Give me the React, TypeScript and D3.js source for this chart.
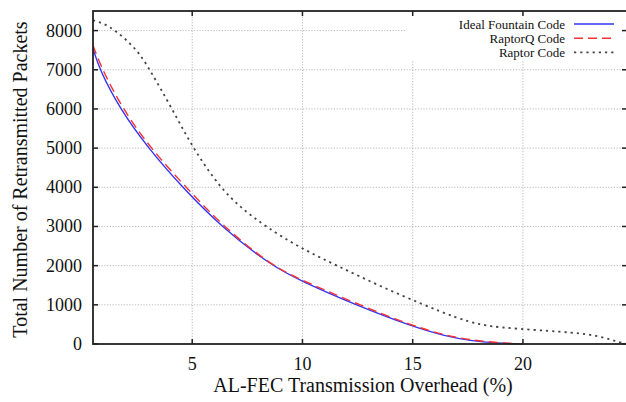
import React from 'react';
import * as d3 from 'd3';

const xTicks = [5, 10, 15, 20];
const yTicks = [0, 1000, 2000, 3000, 4000, 5000, 6000, 7000, 8000];

const idealX = [0.5, 0.8, 1.72, 3.0, 4.55, 6.3, 8.58, 10, 12.4, 15, 16.5, 17.6, 18.8, 20];
const idealY = [7540, 7000, 6000, 5000, 4000, 3000, 2000, 1590, 1000, 440, 200, 85, 20, 0];

const raptorQX = [0.5, 0.92, 1.85, 3.1, 4.72, 6.4, 8.6, 10, 12.45, 15, 16.5, 17.6, 18.8, 20];
const raptorQY = [7620, 7000, 6000, 5000, 4000, 3000, 2000, 1620, 1030, 460, 220, 105, 35, 0];

const raptorX = [0.5, 1.0, 1.52, 2.2, 2.66, 3.08, 4.09, 5.03, 6.25, 7.2, 8.32, 9.9, 11.57, 13.5, 15.5, 17, 18.07, 19, 20.5, 21.7, 22.6, 23.3, 23.96, 24.35, 24.72];
const raptorY = [8265, 8180, 8000, 7670, 7370, 7000, 6000, 5000, 4000, 3480, 3000, 2450, 2000, 1480, 1000, 660, 490, 420, 360, 315, 270, 215, 120, 45, 0];

const seriesNames = ['Ideal Fountain Code', 'RaptorQ Code', 'Raptor Code'];

const W = 626, H = 402;
const L = 93, R = 627, T = 11, B = 344;

export default function App() {
  const x = d3.scaleLinear().domain([0.5, 24.72]).range([L, R]);
  const y = d3.scaleLinear().domain([0, 8500]).range([B, T]);
  const line = d3.line<[number, number]>()
    .x(d => x(d[0]))
    .y(d => y(d[1]))
    .curve(d3.curveBasis);
  const zip = (a: number[], b: number[]) => a.map((v, i) => [v, b[i]] as [number, number]);

  const series = [
    { name: seriesNames[0], d: line(zip(idealX, idealY)), color: '#3333f5', dash: undefined as string | undefined, w: 1.4 },
    { name: seriesNames[1], d: line(zip(raptorQX, raptorQY)), color: '#f53333', dash: '9,5', w: 1.4 },
    { name: seriesNames[2], d: line(zip(raptorX, raptorY)), color: '#444', dash: '2.2,4', w: 1.8 },
  ];
  const ff = "'Times New Roman', Times, 'Liberation Serif', 'Noto Serif', 'DejaVu Serif', serif";
  return (
    <svg width={W} height={H} style={{ position: 'absolute', left: 0, top: 0, background: '#fff' }}>
      <rect x={0} y={0} width={W} height={H} fill="#fff" />
      {/* grid */}
      <g stroke="#b8b8b8" strokeWidth={1} strokeDasharray="1.2,1.6">
        {yTicks.filter(t => t > 0).map(t => (
          <line key={'gy' + t} x1={L} x2={R} y1={y(t)} y2={y(t)} />
        ))}
        {xTicks.map(t => (
          <line key={'gx' + t} x1={x(t)} x2={x(t)} y1={T} y2={B} />
        ))}
      </g>
      {/* legend background */}
      <rect x={405} y={13} width={217} height={48} fill="#fff" />
      {/* curves */}
      {series.map(s => (
        <path key={s.name} d={s.d || ''} fill="none" stroke={s.color} strokeWidth={s.w} strokeDasharray={s.dash} />
      ))}
      {/* frame */}
      <rect x={L} y={T} width={R - L} height={B - T} fill="none" stroke="#222" strokeWidth={1.8} />
      {/* ticks */}
      <g stroke="#222" strokeWidth={1.5}>
        {xTicks.map(t => (
          <g key={'tx' + t}>
            <line x1={x(t)} x2={x(t)} y1={B} y2={B - 5} />
            <line x1={x(t)} x2={x(t)} y1={T} y2={T + 5} />
          </g>
        ))}
        {yTicks.map(t => (
          <g key={'ty' + t}>
            <line x1={L} x2={L + 5} y1={y(t)} y2={y(t)} />
            <line x1={R} x2={R - 5} y1={y(t)} y2={y(t)} />
          </g>
        ))}
      </g>
      {/* tick labels */}
      <g fontFamily={ff} fontSize={18} fill="#111">
        {yTicks.map(t => (
          <text key={'ly' + t} x={L - 11} y={y(t)} textAnchor="end" dominantBaseline="central">{t}</text>
        ))}
        {xTicks.map(t => (
          <text key={'lx' + t} x={x(t)} y={364} textAnchor="middle" dominantBaseline="central">{t}</text>
        ))}
      </g>
      {/* axis titles */}
      <text x={363} y={385} textAnchor="middle" dominantBaseline="central" fontFamily={ff} fontSize={20} fill="#111">
        AL-FEC Transmission Overhead (%)
      </text>
      <text transform={`translate(20, ${(T + B) / 2 + 2}) rotate(-90)`} textAnchor="middle" dominantBaseline="central" fontFamily={ff} fontSize={20} fill="#111">
        Total Number of Retransmitted Packets
      </text>
      {/* legend */}
      <g fontFamily={ff} fontSize={13} fill="#111">
        {series.map((s, i) => (
          <g key={'lg' + i}>
            <text x={565} y={24 + i * 14.2} textAnchor="end" dominantBaseline="central">{s.name}</text>
            <line x1={574} x2={614} y1={24 + i * 14.2} y2={24 + i * 14.2} stroke={s.color} strokeWidth={s.w} strokeDasharray={s.dash} />
          </g>
        ))}
      </g>
    </svg>
  );
}
